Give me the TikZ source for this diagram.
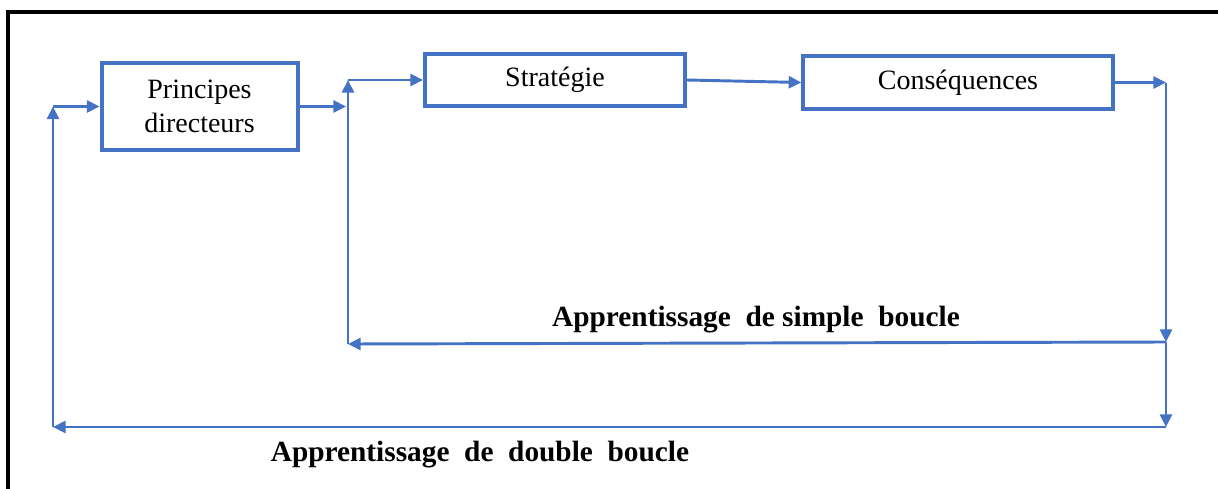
\documentclass[tikz,border=0pt]{standalone}
\usepackage{fontspec}
\setmainfont{Liberation Serif}
\usetikzlibrary{arrows.meta}
\definecolor{officeblue}{HTML}{4472C4}
\begin{document}
\begin{tikzpicture}[x=0.75pt,y=-0.75pt,
  boxnode/.style={draw=officeblue,line width=3pt,inner sep=0pt,align=center,
    font=\fontsize{21}{25.5}\selectfont},
  arr/.style={draw=officeblue,line width=2.2pt,-{Triangle[length=9.5pt,width=9pt]}},
  looplabel/.style={font=\fontsize{22}{26}\selectfont\bfseries}]
\useasboundingbox (0,0) rectangle (1218,489);
\draw[line width=2.6pt,black] (8,12) rectangle (1240,510);
\node[boxnode,minimum width=147pt,minimum height=65pt] (princ) at (199.5,106.5) {Principes\\directeurs};
\node[boxnode,minimum width=195pt,minimum height=39pt] (strat) at (555,80) {Stratégie};
\node[boxnode,minimum width=232pt,minimum height=40pt] (cons) at (958,82.5) {Conséquences};
\coordinate (c1) at (1166,82.5);
\coordinate (c2) at (1166,342);
\coordinate (c3) at (1166,427);
\coordinate (c4) at (53,427);
\coordinate (c5) at (53,106.5);
\coordinate (c6) at (348,344);
\coordinate (c7) at (348,80);
\coordinate (c8) at (346,106.5);
\draw[arr] (princ.east) -- (c8);
\draw[arr] (strat.east) -- (cons.west);
\draw[arr] (cons.east) -- (c1);
\draw[arr] (c1) -- (c2);
\draw[arr] (c2) -- (c6);
\draw[arr] (c6) -- (c7);
\draw[arr] (c7) -- (strat.west);
\draw[arr] (c2) -- (c3);
\draw[arr] (c3) -- (c4);
\draw[arr] (c4) -- (c5);
\draw[arr] (c5) -- (princ.west);
\node[looplabel] (simple) at (756,320) {Apprentissage\ \ de\ simple\ \ boucle};
\node[looplabel] (double) at (480,455) {Apprentissage\ \ de\ \ double\ \ boucle};
\end{tikzpicture}
\end{document}
